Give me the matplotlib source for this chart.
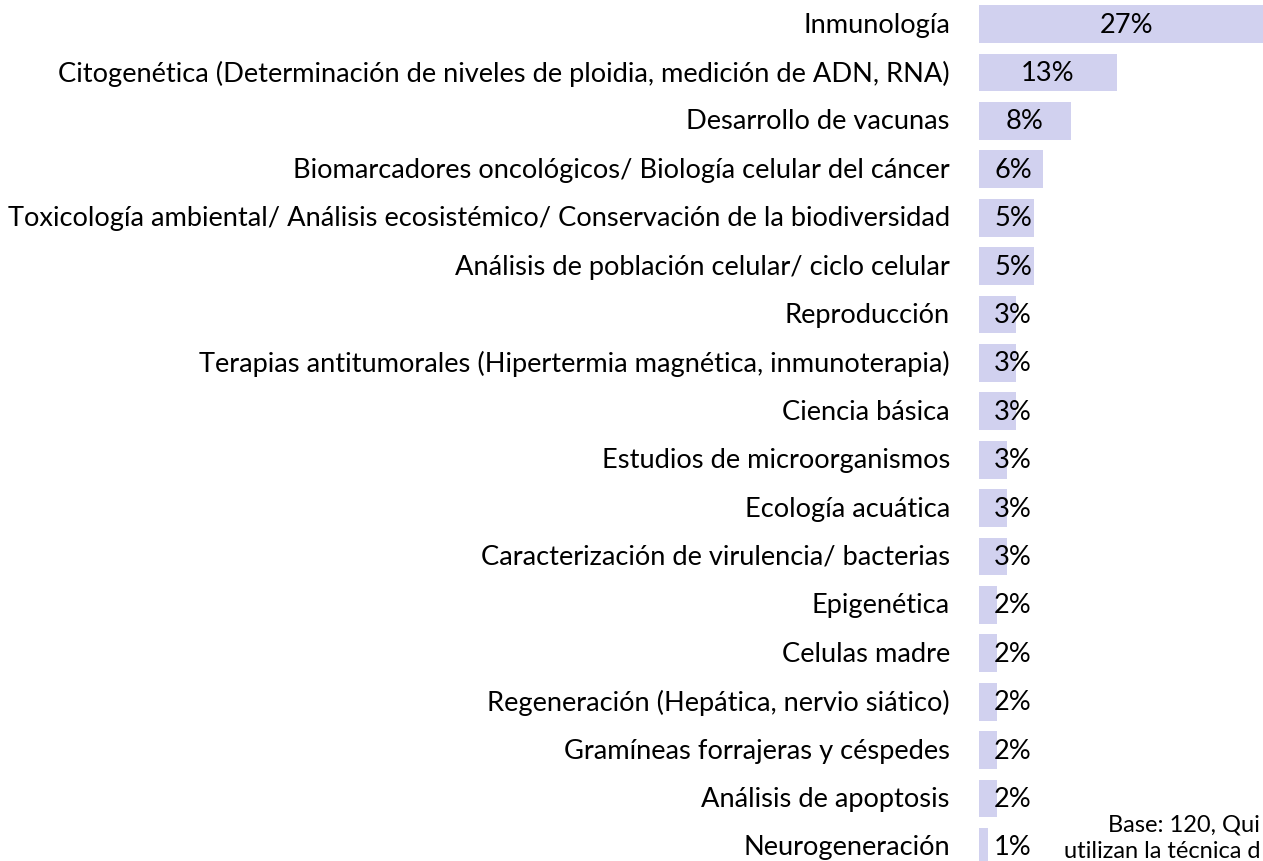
import matplotlib

matplotlib.use("Agg")
import matplotlib.pyplot as plt
import numpy as np

# Share of respondents (base 120) per application area, top to bottom.
categories = [
    "Inmunología",
    "Citogenética (Determinación de niveles de ploidia, medición de ADN, RNA)",
    "Desarrollo de vacunas",
    "Biomarcadores oncológicos/ Biología celular del cáncer",
    "Toxicología ambiental/ Análisis ecosistémico/ Conservación de la biodiversidad",
    "Análisis de población celular/ ciclo celular",
    "Reproducción",
    "Terapias antitumorales (Hipertermia magnética, inmunoterapia)",
    "Ciencia básica",
    "Estudios de microorganismos",
    "Ecología acuática",
    "Caracterización de virulencia/ bacterias",
    "Epigenética",
    "Celulas madre",
    "Regeneración (Hepática, nervio siático)",
    "Gramíneas forrajeras y céspedes",
    "Análisis de apoptosis",
    "Neurogeneración",
]
counts = [32, 15, 10, 7, 6, 6, 4, 4, 4, 3, 3, 3, 2, 2, 2, 2, 2, 1]
base = 120
values = [100 * c / base for c in counts]
# rounded half up, as the spreadsheet shows them
value_labels = [f"{int(v + 0.5)}%" for v in values]
note_lines = ["Base: 120, Qui", "utilizan la técnica d"]

BAR_COLOR = "#d1d1ef"
FONT = "Lato"
FS = 19.6

fig = plt.figure(figsize=(12.63, 8.62), dpi=100)
W, H = 1263, 862
# axes in pixel coords: bars start at x=979, rows run from y=1 to y=872 (last row cut off)
ax = fig.add_axes([979 / W, (H - 872) / H, (W - 979) / W, 871 / H])

px = 11.04  # pixels per percent
y = np.arange(len(categories))
ax.barh(y, values, height=0.78, color=BAR_COLOR)
ax.set_xlim(0, 284 / px)
ax.set_ylim(len(categories) - 0.5, -0.5)
ax.axis("off")

for yi, (cat, v, lab) in enumerate(zip(categories, values, value_labels)):
    ax.text(-29 / px, yi, cat, ha="right", va="center", fontsize=FS,
            family=FONT, clip_on=False)
    ax.text(max(v / 2, 34 / px), yi, lab, ha="center", va="center",
            fontsize=FS, family=FONT, clip_on=False)

# footnote (cut off at the right edge in the source), kept inside the figure
fig.text(1260 / W, 1 - 825 / H, note_lines[0], ha="right", va="center",
         fontsize=17, family=FONT)
fig.text(1260 / W, 1 - 852 / H, note_lines[1], ha="right", va="center",
         fontsize=17, family=FONT)

fig.savefig("out.png", dpi=100)
